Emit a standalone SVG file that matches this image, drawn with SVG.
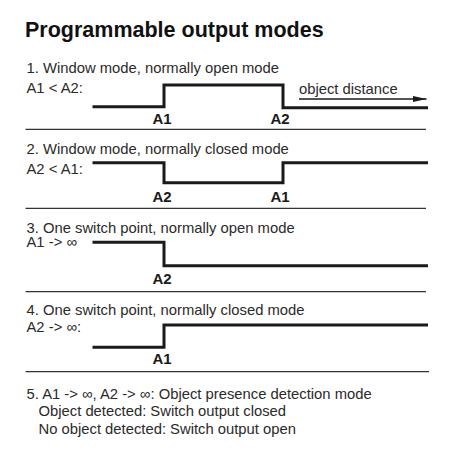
<svg xmlns="http://www.w3.org/2000/svg" width="473" height="471" viewBox="0 0 473 471">
<style>
.title{font-family:"Liberation Sans",Arial,sans-serif;font-weight:bold;font-size:21.5px;fill:#111}
.t{font-family:"Liberation Sans",Arial,sans-serif;font-size:14.8px;fill:#2a2a2a}
.lb{font-family:"Liberation Sans",Arial,sans-serif;font-weight:bold;font-size:15px;fill:#1a1a1a;text-anchor:middle}
.wave{fill:none;stroke:#1a1a1a;stroke-width:3}
.sep{stroke:#333;stroke-width:1.3}
.arr{stroke:#1a1a1a;stroke-width:1.6;fill:none}
</style>
<defs>
<marker id="ah" viewBox="0 0 14 6" refX="14" refY="3" markerWidth="14" markerHeight="6" markerUnits="userSpaceOnUse" orient="auto">
<path d="M0,0 L14,3 L0,6 z" fill="#1a1a1a"/>
</marker>
</defs>
<rect width="473" height="471" fill="#fff"/>
<text class="title" x="25" y="37">Programmable output modes</text>

<g id="mode1">
<text class="t" x="26.5" y="73">1. Window mode, normally open mode</text>
<text class="t" x="26.5" y="93">A1 &lt; A2:</text>
<polyline class="wave" points="92.5,106.7 164,106.7 164,85 283,85 283,107.7 428,107.7"/>
<text class="lb" x="162" y="124">A1</text>
<text class="lb" x="280" y="124">A2</text>
<text class="t" x="299" y="94">object distance</text>
</g>

<g id="mode2">
<text class="t" x="26.5" y="153.5">2. Window mode, normally closed mode</text>
<text class="t" x="26.5" y="173.5">A2 &lt; A1:</text>
<polyline class="wave" points="92.5,162.7 164,162.7 164,182.7 283,182.7 283,162.7 428,162.7"/>
<text class="lb" x="162" y="201.7">A2</text>
<text class="lb" x="280" y="201.7">A1</text>
</g>

<g id="mode3">
<text class="t" x="26.5" y="232.5">3. One switch point, normally open mode</text>
<text class="t" x="26.5" y="247">A1 -&gt; ∞</text>
<polyline class="wave" points="92.5,242.3 164,242.3 164,265.7 428,265.7"/>
<text class="lb" x="162" y="284">A2</text>
</g>

<g id="mode4">
<text class="t" x="26.5" y="315">4. One switch point, normally closed mode</text>
<text class="t" x="26.5" y="332">A2 -&gt; ∞:</text>
<polyline class="wave" points="92.5,347.3 164,347.3 164,325 428,325"/>
<text class="lb" x="162" y="364">A1</text>
</g>

<g id="mode5">
<text class="t" x="26.5" y="398.5">5. A1 -&gt; ∞, A2 -&gt; ∞: Object presence detection mode</text>
<text class="t" x="38.5" y="415.5">Object detected: Switch output closed</text>
<text class="t" x="38.5" y="434">No object detected: Switch output open</text>
</g>

<g id="connectors">
<line class="arr" x1="299" y1="99" x2="426.5" y2="99" marker-end="url(#ah)"/>
<line class="sep" x1="25.5" y1="129.3" x2="426" y2="129.3"/>
<line class="sep" x1="25.5" y1="208.3" x2="426" y2="208.3"/>
<line class="sep" x1="25.5" y1="291.7" x2="426" y2="291.7"/>
<line class="sep" x1="25.5" y1="371.7" x2="429" y2="371.7"/>
</g>
</svg>
